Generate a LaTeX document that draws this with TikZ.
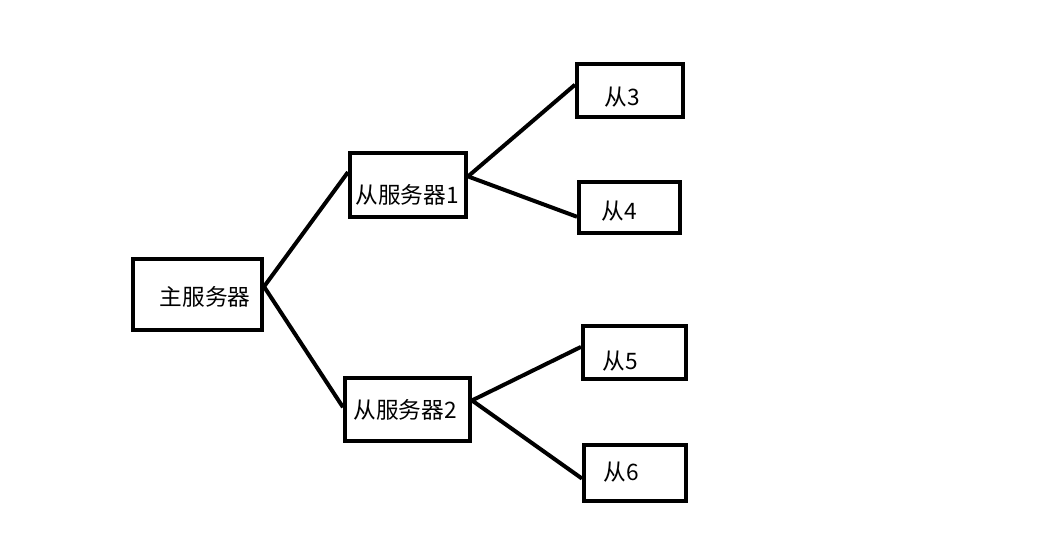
\documentclass[tikz,border=0pt]{standalone}
\usepackage{fontspec}
\newfontfamily\cjk{Noto Sans CJK SC}
\tikzset{every picture/.style={line width=3pt}}
\tikzset{srvbox/.style={draw, line width=3pt, inner sep=0pt},
  srvtext/.style={inner sep=0.75pt, font=\cjk\fontsize{17}{20}\selectfont}}

\begin{document}
\begin{tikzpicture}[x=0.75pt,y=0.75pt,yscale=-1,xscale=1]
%set diagram left start at 0, and has size of 1064 x 544
\useasboundingbox (0,0) rectangle (1064,544);

%Shape: Rectangle [master]
\node [srvbox, minimum width=96.4pt, minimum height=52.9pt] (master) at (197.75,294.75) {};
%Shape: Rectangle [slave 1]
\node [srvbox, minimum width=87pt, minimum height=48.2pt] (s1) at (408,184.85) {};
%Shape: Rectangle [slave 2]
\node [srvbox, minimum width=93.75pt, minimum height=47.25pt] (s2) at (407.5,409.5) {};
%Shape: Rectangle [slave 3]
\node [srvbox, minimum width=79.5pt, minimum height=39.75pt] (s3) at (630,90.5) {};
%Shape: Rectangle [slave 4]
\node [srvbox, minimum width=75.75pt, minimum height=38.25pt] (s4) at (629.5,207.5) {};
%Shape: Rectangle [slave 5]
\node [srvbox, minimum width=77.25pt, minimum height=39.75pt] (s5) at (634.5,352.5) {};
%Shape: Rectangle [slave 6]
\node [srvbox, minimum width=76.5pt, minimum height=42pt] (s6) at (635,473) {};

%Straight Lines
\draw (master.7) -- (s1.168) ;
\draw (master.7) -- (s2.178) ;
\draw (s1.8) -- (s3.174) ;
\draw (s1.8) -- (s4.190) ;
\draw (s2.8) -- (s5.174) ;
\draw (s2.8) -- (s6.186) ;

% Text Node
\node [srvtext] (t-master) at (205,297) {主服务器};
% Text Node
\node [srvtext] (t-s1) at (407,195) {从服务器1};
% Text Node
\node [srvtext] (t-s2) at (405,410) {从服务器2};
% Text Node
\node [srvtext] (t-s3) at (622,97.5) {从3};
% Text Node
\node [srvtext] (t-s4) at (619,211) {从4};
% Text Node
\node [srvtext] (t-s5) at (620,361) {从5};
% Text Node
\node [srvtext] (t-s6) at (621,472.5) {从6};

\end{tikzpicture}
\end{document}
